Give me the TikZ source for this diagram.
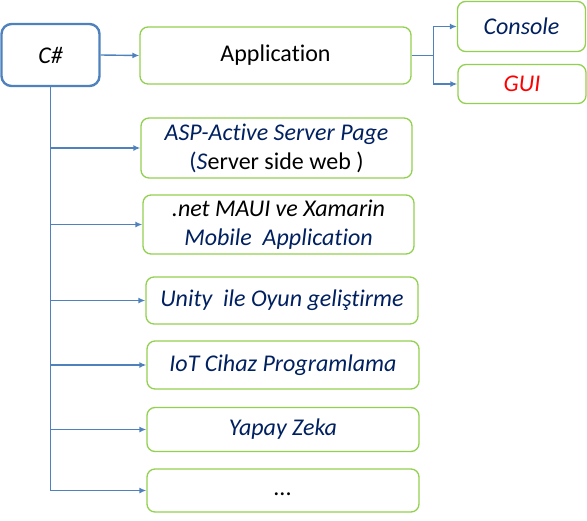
\documentclass[tikz,border=0pt]{standalone}
\usepackage{fontspec}
\setmainfont{Carlito}[Ligatures=NoCommon]
\usepackage{xcolor}
\usetikzlibrary{positioning,arrows.meta}
\definecolor{lineblue}{HTML}{4F81BD}
\definecolor{boxgreen}{HTML}{92D050}
\definecolor{navy}{HTML}{002060}
\tikzset{
	topic/.style={
			draw=boxgreen,
			line width=1.3pt,
			rounded corners=8pt,
			inner sep=2pt,
			align=center,
			font=\fontsize{24}{29}\selectfont\itshape,
			text=navy
		},
	link/.style={
			draw=lineblue,
			line width=1.4pt,
			-{Latex[length=7pt,width=6pt]}
		}
}
\begin{document}
\begin{tikzpicture}[x=1pt,y=-1pt]
		\useasboundingbox (0,0) rectangle (587,520);

		% Root
		\node[draw=lineblue,
			line width=2.4pt,
			rounded corners=10pt,
			minimum width=98pt,
			minimum height=62pt,
			font=\fontsize{24}{29}\selectfont\itshape
		] (csharp) at (50.5,55) {C\#};

		% Application and its two kinds
		\node[topic,
			minimum width=271pt,
			minimum height=57pt,
			font=\fontsize{24}{29}\selectfont,
			text=black
		] (app) at (275.5,55.5) {Application};

		\node[topic,
			minimum width=128pt,
			minimum height=50pt
		] (console) at (521.5,26.5) {Console};

		\node[topic,
			minimum width=128pt,
			minimum height=39pt,
			text=red
		] (gui) at (522,84) {GUI};

		% Fields
		\node[topic,
			minimum width=271pt,
			minimum height=60pt
		] (asp) at (276.5,148) {ASP-Active Server Page\\
			\upshape(\textit{S}\textcolor{black}{erver side web )}};

		\node[topic,
			minimum width=271pt,
			minimum height=59pt
		] (maui) at (278.5,224.5) {\textcolor{black}{.net MAUI ve Xamarin}\\
			Mobile\ \ Application};

		\node[topic,
			minimum width=272pt,
			minimum height=47pt
		] (unity) at (282,300.5) {Unity\ \ ile Oyun geliştirme};

		\node[topic,
			minimum width=272pt,
			minimum height=48pt
		] (iot) at (283,365) {IoT Cihaz Programlama};

		\node[topic,
			minimum width=272pt,
			minimum height=44pt
		] (ai) at (283,429.5) {Yapay Zeka};

		\node[topic,
			minimum width=272pt,
			minimum height=43pt,
			text=black
		] (more) at (283,490.5) {\raisebox{-5pt}[0pt][0pt]{...}};

		% Arrows
		\draw[link] (csharp.east) -- (app.west);

		\draw[lineblue, line width=1.4pt] (app.east) -- ++(22,0)
		coordinate (split);
		\draw[link] (split) |- (console.west);
		\draw[link] (split) |- (gui.west);

		\foreach \field in {asp,maui,unity,iot,ai,more}
		\draw[link] (csharp.south) |- (\field.west);
	\end{tikzpicture}
\end{document}
